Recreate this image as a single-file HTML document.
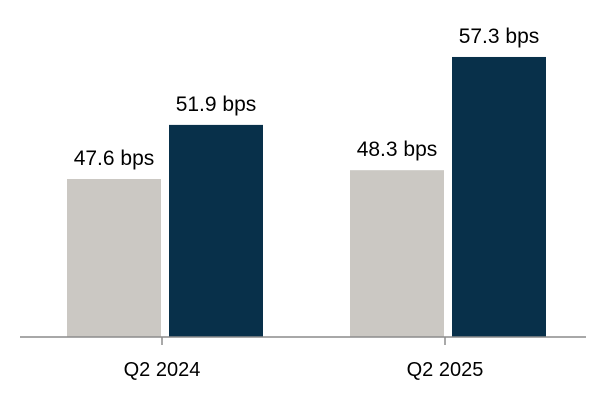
<!DOCTYPE html>
<html><head><meta charset="utf-8"><style>
html,body{margin:0;padding:0;background:#fff;}
svg{display:block;font-family:"Liberation Sans",Arial,sans-serif;}
</style></head><body>
<svg id="chart" width="604" height="400" viewBox="0 0 604 400"></svg>
<script>
const categories = ["Q2 2024", "Q2 2025"];
const seriesA = [47.6, 48.3];
const seriesB = [51.9, 57.3];
const labelsA = ["47.6 bps", "48.3 bps"];
const labelsB = ["51.9 bps", "57.3 bps"];

const NS = "http://www.w3.org/2000/svg";
const svg = document.getElementById('chart');
const baseY = 337, vMin = 35.04, pxPer = 12.58;
function y(v){ return baseY - (v - vMin) * pxPer; }
const groupCenter = [162, 445];
const barW = 94, gap = 16;
function mk(tag, attrs){ const e = document.createElementNS(NS, tag); for (const k in attrs) e.setAttribute(k, attrs[k]); svg.appendChild(e); return e; }

categories.forEach((c, i) => {
  const xa = groupCenter[i] - gap/2 - barW + 7;
  const xb = groupCenter[i] + gap/2 - 1;
  const ra = mk('rect', {x: xa, y: y(seriesA[i]), width: barW, height: baseY - y(seriesA[i]), fill: '#cbc8c3'});
  
  
  const rb = mk('rect', {x: xb, y: y(seriesB[i]), width: barW, height: baseY - y(seriesB[i]), fill: '#08304a'});
  
  
  const ta = mk('text', {x: xa + barW/2, y: y(seriesA[i]) - 14, 'text-anchor': 'middle', 'font-size': 21, fill: '#000'});
  ta.textContent = labelsA[i];
  
  
  const tb = mk('text', {x: xb + barW/2, y: y(seriesB[i]) - 14, 'text-anchor': 'middle', 'font-size': 21, fill: '#000'});
  tb.textContent = labelsB[i];
  
  
  const tk = mk('line', {x1: groupCenter[i], x2: groupCenter[i], y1: baseY, y2: baseY + 8, stroke: '#8c8c8c', 'stroke-width': 1.5});
  
  
  const cl = mk('text', {x: groupCenter[i], y: 376, 'text-anchor': 'middle', 'font-size': 20, fill: '#000'});
  cl.textContent = c;
  
  
});
const ax = mk('line', {x1: 20, x2: 586, y1: baseY, y2: baseY, stroke: '#8c8c8c', 'stroke-width': 1.5});


</script>
</body></html>
